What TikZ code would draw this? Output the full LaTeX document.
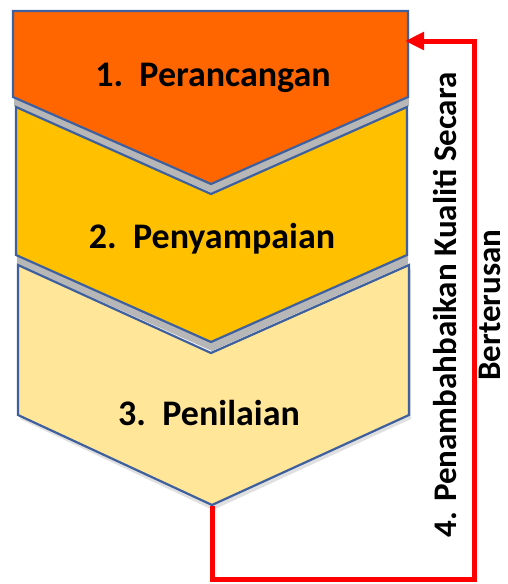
\documentclass[tikz,border=0pt]{standalone}
\usepackage{fontspec}
\setmainfont{Carlito}
\usepackage{tikz}
\usetikzlibrary{arrows.meta,calc}
\definecolor{peri}{RGB}{255,102,0}
\definecolor{peny}{RGB}{255,192,0}
\definecolor{peni}{RGB}{255,230,153}
\definecolor{rim}{RGB}{62,96,158}

\begin{document}
\begin{tikzpicture}[x=1pt,y=-1pt,
chev/.style={draw=rim,line width=2.2pt,line join=miter},
shad/.style={fill=black!40,opacity=0.7},
lbl/.style={font=\fontsize{36}{42}\selectfont\bfseries,inner sep=0pt},
fb/.style={draw=red,line width=5pt,-{Triangle[length=19pt,width=17pt]}},
semithick]
\useasboundingbox (0,0) rectangle (508,584);

% shadows under the stages
\begin{scope}[shift={(1,9)}]
\fill[shad] (13,11) -- (408,11) -- (408,97) -- (211,184) -- (13,97) -- cycle;
\fill[shad] (16,107) -- (211,194) -- (407,107) -- (407,255) -- (211,342) -- (16,255) -- cycle;
\end{scope}
\fill[shad,opacity=0.3] (20,269) -- (211,357) -- (411,269) -- (411,419) -- (213,510) -- (20,419) -- cycle;

% stages
\draw[chev,fill=peri] (13,11) -- (408,11) -- (408,97) -- (211,184) -- (13,97) -- cycle;
\draw[chev,fill=peny] (16,107) -- (211,194) -- (407,107) -- (407,255) -- (211,342) -- (16,255) -- cycle;
\draw[chev,fill=peni] (18,265) -- (211,353) -- (409,265) -- (409,415) -- (212,505) -- (18,415) -- cycle;

\node[lbl] (perancangan) at (213,78) {1.\ \ Perancangan};
\node[lbl] (penyampaian) at (212,239) {2.\ \ Penyampaian};
\node[lbl] (penilaian) at (209,413) {3.\ \ Penilaian};

% feedback loop
\coordinate (tip3) at (212,506);
\coordinate (in1) at (405,41);
\coordinate (loopR) at (474,579);
\draw[fb] (tip3) |- (loopR) |- (in1);

\node[lbl,rotate=90,align=center,font=\fontsize{33}{44}\selectfont\bfseries] (tambah) at (467,305)
  {4. Penambahbaikan Kualiti Secara\\Berterusan};
\end{tikzpicture}
\end{document}
